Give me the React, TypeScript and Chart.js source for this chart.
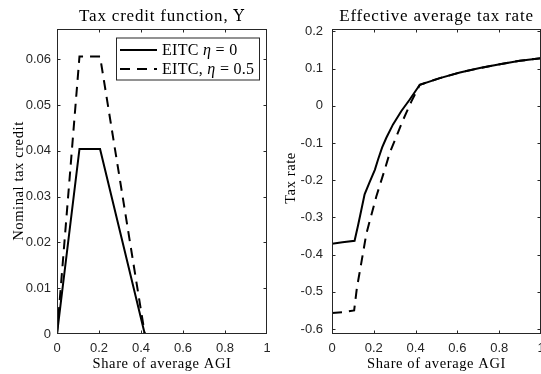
import { useEffect, useRef } from "react";
import { Chart, registerables } from "chart.js";

Chart.register(...registerables);

// ---- Left panel: tax credit function ----
const creditX = [0, 0.107, 0.205, 0.418, 1];
const creditEta0 = [0, 0.0404, 0.0404, 0, 0];
const creditEta05 = [0, 0.0606, 0.0606, 0, 0];

// ---- Right panel: effective average tax rate ----
const rateXEta0 = [0, 0.05, 0.108, 0.124, 0.14, 0.156, 0.18, 0.205, 0.22, 0.24, 0.26, 0.292, 0.332, 0.372, 0.42, 0.516, 0.612, 0.707, 0.803, 0.899, 1];
const rateEta0 = [-0.371, -0.367, -0.363, -0.323, -0.281, -0.238, -0.205, -0.172, -0.145, -0.112, -0.086, -0.05, -0.014, 0.017, 0.0565, 0.0745, 0.0896, 0.1015, 0.112, 0.121, 0.128];
const rateXEta05 = [0, 0.05, 0.106, 0.119, 0.13, 0.14, 0.164, 0.188, 0.212, 0.228, 0.252, 0.276, 0.308, 0.34, 0.38, 0.42, 0.516, 0.612, 0.707, 0.803, 0.899, 1];
const rateEta05 = [-0.557, -0.555, -0.55, -0.49, -0.455, -0.423, -0.345, -0.294, -0.244, -0.215, -0.172, -0.127, -0.083, -0.038, 0.012, 0.0565, 0.0745, 0.0896, 0.1015, 0.112, 0.121, 0.128];

// ---- Ticks ----
const xTicks = [0, 0.2, 0.4, 0.6, 0.8, 1];
const xTickLabels = ["0", "0.2", "0.4", "0.6", "0.8", "1"];
const creditTicks = [0, 0.01, 0.02, 0.03, 0.04, 0.05, 0.06];
const creditTickLabels = ["0", "0.01", "0.02", "0.03", "0.04", "0.05", "0.06"];
const rateTicks = [-0.6, -0.5, -0.4, -0.3, -0.2, -0.1, 0, 0.1, 0.2];
const rateTickLabels = ["-0.6", "-0.5", "-0.4", "-0.3", "-0.2", "-0.1", "0", "0.1", "0.2"];

const creditRange = [0, 0.0666];
const rateRange = [-0.6135, 0.2065];

const seriesLabels = ["EITC η = 0", "EITC, η = 0.5"];
const leftTitle = ["Tax credit function, ", "Υ"];
const rightTitle = ["Effective average tax rate", ""];
const xTitle = "Share of average AGI";
const leftYTitle = "Nominal tax credit";
const rightYTitle = "Tax rate";

const AXIS = "#262626";
const SANS = "'Liberation Sans', Arial, sans-serif";
const SERIF = "'Liberation Serif', 'Times New Roman', serif";
const DASH = [10, 7];

function drawText(ctx: CanvasRenderingContext2D, str: string, x: number, y: number, font: string, align: CanvasTextAlign, spacing: number) {
  ctx.font = font;
  (ctx as any).letterSpacing = spacing + "px";
  ctx.textAlign = align;
  ctx.textBaseline = "alphabetic";
  ctx.fillStyle = "#000";
  ctx.fillText(str, x, y);
}

function drawTitle(ctx: CanvasRenderingContext2D, parts: string[], cx: number, y: number) {
  const f1 = `17px ${SERIF}`;
  const f2 = `16px 'DejaVu Serif', serif`;
  ctx.textAlign = "left";
  ctx.textBaseline = "alphabetic";
  ctx.fillStyle = "#000";
  (ctx as any).letterSpacing = "0.8px";
  ctx.font = f1;
  const w1 = ctx.measureText(parts[0]).width;
  ctx.font = f2;
  const w2 = parts[1] ? ctx.measureText(parts[1]).width : 0;
  const x0 = cx - (w1 + w2) / 2;
  ctx.font = f1;
  ctx.fillText(parts[0], x0, y);
  if (parts[1]) {
    ctx.font = f2;
    ctx.fillText(parts[1], x0 + w1, y);
  }
}

function drawMathLabel(ctx: CanvasRenderingContext2D, str: string, x: number, y: number) {
  const parts = str.split("η");
  let cx = x;
  const reg = `16px ${SERIF}`;
  const ita = `italic 16px ${SERIF}`;
  ctx.textAlign = "left";
  ctx.textBaseline = "alphabetic";
  ctx.fillStyle = "#000";
  (ctx as any).letterSpacing = "0.3px";
  parts.forEach((p, i) => {
    ctx.font = reg;
    ctx.fillText(p, cx, y);
    cx += ctx.measureText(p).width;
    if (i < parts.length - 1) {
      ctx.font = ita;
      ctx.fillText("η", cx, y);
      cx += ctx.measureText("η").width;
    }
  });
}

type PanelOpts = {
  title: string[];
  titleX: number;
  yTitle: string;
  yTitleX: number;
  yTitleY: number;
  yTicks: number[];
  legend: boolean;
};

function framePlugin(o: PanelOpts) {
  return {
    id: "frame",
    afterDraw(chart: any) {
      const { ctx, chartArea: a, scales } = chart;
      const xs = scales.x;
      const ys = scales.y;
      ctx.save();
      // box
      const L = a.left + 0.5, R = a.right - 0.5, T = a.top + 0.5, B = a.bottom - 0.5;
      ctx.strokeStyle = AXIS;
      ctx.lineWidth = 1;
      ctx.setLineDash([]);
      ctx.strokeRect(L, T, R - L, B - T);
      // inward ticks
      const tl = 3;
      ctx.beginPath();
      xTicks.forEach((v) => {
        const px = Math.round(xs.getPixelForValue(v)) + 0.5;
        const p = Math.min(Math.max(px, L), R);
        ctx.moveTo(p, B); ctx.lineTo(p, B - tl);
        ctx.moveTo(p, T); ctx.lineTo(p, T + tl);
      });
      o.yTicks.forEach((v) => {
        const py = Math.round(ys.getPixelForValue(v)) + 0.5;
        const p = Math.min(Math.max(py, T), B);
        ctx.moveTo(L, p); ctx.lineTo(L + tl, p);
        ctx.moveTo(R, p); ctx.lineTo(R - tl, p);
      });
      ctx.stroke();
      // title
      drawTitle(ctx, o.title, o.titleX, 21);
      // x-axis title
      drawText(ctx, xTitle, (a.left + a.right) / 2, 368, `14.5px ${SERIF}`, "center", 0.6);
      // y-axis title (rotated)
      ctx.save();
      ctx.translate(o.yTitleX, o.yTitleY);
      ctx.rotate(-Math.PI / 2);
      drawText(ctx, o.yTitle, 0, 0, `14.5px ${SERIF}`, "center", 0.6);
      ctx.restore();
      // legend
      if (o.legend) {
        const bx = 116, by = 37.5, bw = 144, bh = 43;
        ctx.fillStyle = "#fff";
        ctx.fillRect(bx, by, bw, bh);
        ctx.strokeStyle = AXIS;
        ctx.lineWidth = 1;
        ctx.strokeRect(bx + 0.5, by + 0.5, bw - 1, bh - 1);
        const rows = [50, 69];
        rows.forEach((ry, i) => {
          ctx.beginPath();
          ctx.strokeStyle = "#000";
          ctx.lineWidth = 2;
          ctx.setLineDash(i === 0 ? [] : DASH);
          ctx.lineCap = "butt";
          ctx.moveTo(120, ry);
          ctx.lineTo(157, ry);
          ctx.stroke();
          ctx.setLineDash([]);
          drawMathLabel(ctx, seriesLabels[i], 162, ry + 5);
        });
      }
      ctx.restore();
    },
  };
}

function makeConfig(
  datasets: { xs: number[]; ys: number[]; dashed: boolean; label: string }[],
  yRange: number[],
  yTicks: number[],
  yLabels: string[],
  yWidth: number,
  yPad: number,
  padRight: number,
  o: PanelOpts
): any {
  return {
    type: "line",
    data: {
      datasets: datasets.map((d) => ({
        label: d.label,
        data: d.xs.map((x, i) => ({ x, y: d.ys[i] })),
        borderColor: "#000",
        backgroundColor: "#000",
        borderWidth: 2,
        borderDash: d.dashed ? DASH : [],
        borderCapStyle: "butt",
        pointRadius: 0,
        tension: 0,
        fill: false,
      })),
    },
    options: {
      animation: false,
      responsive: false,
      events: [],
      layout: { padding: { top: 29, right: padRight, bottom: 0, left: 0 } },
      plugins: { legend: { display: false }, tooltip: { enabled: false }, title: { display: false } },
      scales: {
        x: {
          type: "linear",
          min: 0,
          max: 1,
          grid: { display: false, drawTicks: false },
          border: { display: false },
          ticks: {
            autoSkip: false,
            maxRotation: 0,
            padding: 7,
            color: AXIS,
            font: { family: SANS, size: 13 },
            callback: (_v: any, i: number) => xTickLabels[i],
          },
          afterBuildTicks: (s: any) => {
            s.ticks = xTicks.map((v) => ({ value: v }));
          },
          afterFit: (s: any) => {
            s.height = 40;
            s.paddingLeft = 0;
            s.paddingRight = 0;
          },
        },
        y: {
          type: "linear",
          min: yRange[0],
          max: yRange[1],
          grid: { display: false, drawTicks: false },
          border: { display: false },
          ticks: {
            autoSkip: false,
            padding: yPad,
            color: AXIS,
            font: { family: SANS, size: 13 },
            callback: (_v: any, i: number) => yLabels[i],
          },
          afterBuildTicks: (s: any) => {
            s.ticks = yTicks.map((v) => ({ value: v }));
          },
          afterFit: (s: any) => {
            s.width = yWidth;
            s.paddingTop = 0;
            s.paddingBottom = 0;
          },
        },
      },
    },
    plugins: [framePlugin(o)],
  };
}

export default function App() {
  const leftRef = useRef<HTMLCanvasElement>(null);
  const rightRef = useRef<HTMLCanvasElement>(null);

  useEffect(() => {
    const c1 = new Chart(
      leftRef.current!,
      makeConfig(
        [
          { xs: creditX, ys: creditEta0, dashed: false, label: seriesLabels[0] },
          { xs: creditX, ys: creditEta05, dashed: true, label: seriesLabels[1] },
        ],
        creditRange,
        creditTicks,
        creditTickLabels,
        57,
        6,
        3,
        { title: leftTitle, titleX: 162, yTitle: leftYTitle, yTitleX: 23, yTitleY: 181, yTicks: creditTicks, legend: true }
      )
    );
    const c2 = new Chart(
      rightRef.current!,
      makeConfig(
        [
          { xs: rateXEta0, ys: rateEta0, dashed: false, label: seriesLabels[0] },
          { xs: rateXEta05, ys: rateEta05, dashed: true, label: seriesLabels[1] },
        ],
        rateRange,
        rateTicks,
        rateTickLabels,
        62,
        9,
        19,
        { title: rightTitle, titleX: 166.5, yTitle: rightYTitle, yTitleX: 25, yTitleY: 178, yTicks: rateTicks, legend: false }
      )
    );
    return () => {
      c1.destroy();
      c2.destroy();
    };
  }, []);

  return (
    <div style={{ position: "fixed", left: 0, top: 0, width: 541, height: 374, overflow: "hidden", background: "#fff" }}>
      <canvas ref={leftRef} width={270} height={374} style={{ position: "absolute", left: 0, top: 0 }} />
      <canvas ref={rightRef} width={290} height={374} style={{ position: "absolute", left: 270, top: 0 }} />
    </div>
  );
}
